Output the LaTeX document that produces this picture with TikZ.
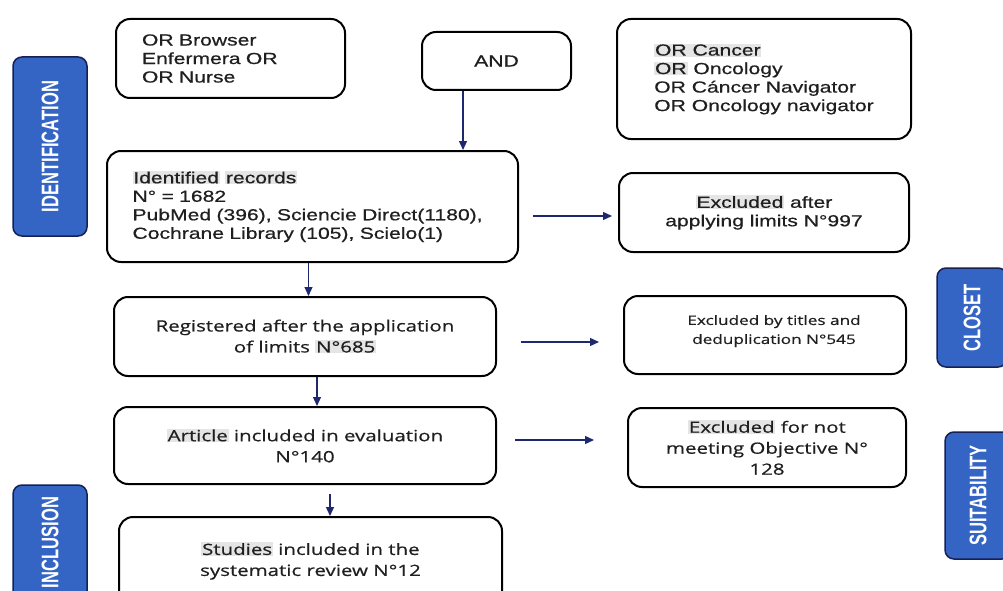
\documentclass[tikz,border=0pt]{standalone}
\usepackage{fontspec}
\setmainfont{Liberation Sans}
\newfontfamily\arialf[FakeStretch=1.32, FakeBold=0.6]{Liberation Sans}
\newfontfamily\segoef[FakeStretch=1.32, FakeBold=0.6]{Open Sans}
\newfontfamily\tabf[FakeStretch=0.69]{Liberation Sans}
\usetikzlibrary{arrows.meta, positioning}
\usepackage{xcolor}
\definecolor{tabblue}{RGB}{52,101,196}
\definecolor{tabedge}{RGB}{22,32,84}
\definecolor{arrnavy}{RGB}{30,40,110}
\newcommand{\hlw}[1]{{\setlength{\fboxsep}{0.8pt}\colorbox{black!10}{#1}}}

\begin{document}
\begin{tikzpicture}[x=1pt, y=-1pt, >={Triangle[length=9pt, width=8pt]},
  recbox/.style={draw, line width=2pt, rounded corners=14pt, fill=white, align=center, text=black!88, font=\arialf\fontsize{16}{18.5}\selectfont},
  lowbox/.style={recbox, font=\segoef\fontsize{15.5}{21}\selectfont},
  tab/.style={draw=tabedge, line width=1.5pt, fill=tabblue, rounded corners=9pt, rotate=90, text=white, font=\tabf\bfseries\fontsize{24}{24}\selectfont, inner sep=0pt},
  link/.style={->, draw=arrnavy, line width=1.2pt}]
  \path[use as bounding box, fill=white] (0,0) rectangle (1003,591);
  \clip (0,0) rectangle (1003,591);
  \node[recbox, text width=177pt, inner xsep=26pt, minimum height=79pt, align=left] (brw) at (230.5,58.5) {OR Browser\\ Enfermera OR\\ OR Nurse};
  \node[recbox, minimum width=149pt, minimum height=58pt] (and) at (496.5,61) {AND};
  \node[recbox, minimum width=294pt, minimum height=120pt, align=left] (terms) at (764,79) {\hlw{OR Cancer}\\ \hlw{OR} Oncology\\ OR Cáncer Navigator\\ OR Oncology navigator};
  \node[recbox, text width=360pt, inner xsep=25.5pt, minimum height=111pt, align=left] (ident) at (312.5,206.5) {\hlw{Identified} \hlw{records}\\ N° = 1682\\ PubMed (396), Sciencie Direct(1180),\\ Cochrane Library  (105), Scielo(1)};
  \node[recbox, minimum width=290pt, minimum height=79pt] (exc1) at (764,212.5) {\hlw{Excluded} after\\ applying limits N°997};
  \node[lowbox, minimum width=382pt, minimum height=79pt] (reg) at (305,336.5) {Registered after the application\\ of limits \hlw{N°685}};
  \node[lowbox, minimum width=282pt, minimum height=78pt, font=\segoef\fontsize{13}{19}\selectfont] (exc2) at (765,335) {\hspace*{18pt}Excluded by titles and\\ \hspace*{18pt}deduplication N°545\\[-8pt]};
  \node[lowbox, minimum width=382pt, minimum height=77pt] (art) at (305,445.5) {\hlw{Article} included in evaluation\\ N°140};
  \node[lowbox, minimum width=278pt, minimum height=79pt] (exc3) at (767,447.5) {\hlw{Excluded} for not\\ meeting Objective N°\\ 128};
  \node[lowbox, minimum width=383pt, minimum height=88pt] (stu) at (310.5,561) {\hlw{Studies} included in the\\ systematic review N°12};
  \node[tab, minimum width=179pt, minimum height=74pt] (idt) at (50,146.5) {IDENTIFICATION};
  \node[tab, minimum width=115pt, minimum height=74pt] (inc) at (50,542.5) {INCLUSION};
  \node[tab, minimum width=99pt, minimum height=70pt] (clo) at (972,317.5) {CLOSET};
  \node[tab, minimum width=127pt, minimum height=66pt] (sui) at (978,495.5) {SUITABILITY};
  \draw[link] ([xshift=-33.5pt]and.south) -- ([xshift=-33.5pt]and.south |- ident.north);
  \draw[link] ([xshift=-4pt]ident.south) -- ([xshift=-4pt]ident.south |- reg.north);
  \draw[link] ([xshift=12pt]reg.south) -- ([xshift=12pt]reg.south |- art.north);
  \draw[link, shorten <=9pt] ([xshift=25pt]art.south) -- ([xshift=25pt]art.south |- stu.north);
  \draw[link, shorten <=14pt, shorten >=6pt] ([yshift=-9.5pt]ident.east) -- ([yshift=-9.5pt]ident.east -| exc1.west);
  \draw[link, shorten <=24pt, shorten >=24pt] ([yshift=-5.5pt]reg.east) -- ([yshift=-5.5pt]reg.east -| exc2.west);
  \draw[link, shorten <=18pt, shorten >=33pt] ([yshift=5.5pt]art.east) -- ([yshift=5.5pt]art.east -| exc3.west);
\end{tikzpicture}
\end{document}
